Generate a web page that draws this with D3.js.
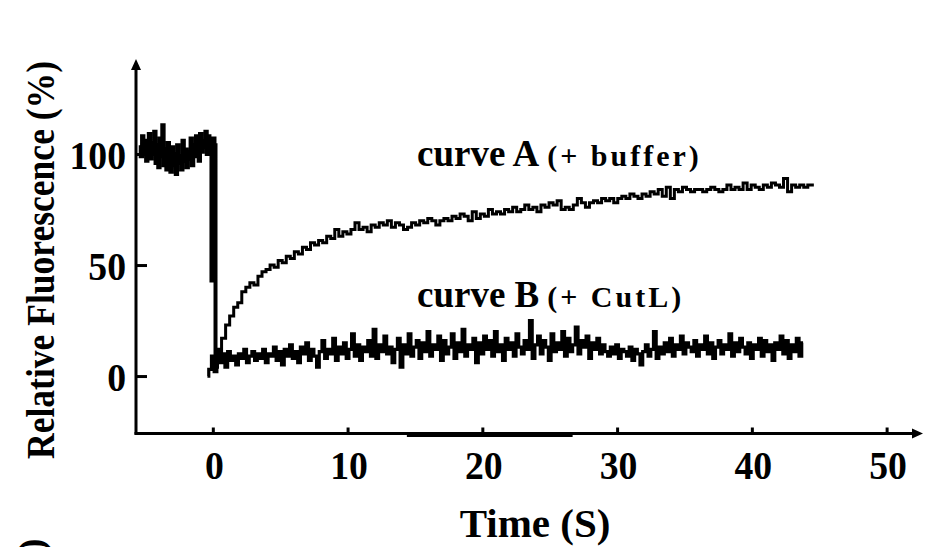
<!DOCTYPE html>
<html>
<head>
<meta charset="utf-8">
<script src="https://cdn.jsdelivr.net/npm/d3@7/dist/d3.min.js"></script>
<style>
html,body{margin:0;padding:0;background:#fff;}
svg{display:block;}
text{font-family:"Liberation Serif","Times New Roman",serif;font-weight:bold;fill:#000;}
</style>
</head>
<body>
<svg id="chart" width="932" height="547"></svg>
<script>
// ---------- data ----------
const xTicks = [0, 10, 20, 30, 40, 50];
const yTicks = [0, 50, 100];
const xTitle = "Time (S)";
const yTitle = "Relative Fluorescence (%)";

// baseline before injection: start time, step (s), values (%)
const preStart = -5.4, preStep = 0.1;
const preValues = [104,99,108,101,106,97,103,109,98,105,
  100,110,96,104,94,107,99,113,95,102,
  93,105,97,92,103,95,100,91,104,96,
  99,93,106,97,102,94,101,98,107,95,
  104,99,108,102,97,109,101,106,103,110,
  100,108,103,107];
// drop at injection: [time, value]
const dropTimes  = [-0.1, -0.1, 0.05, 0.05, 0.2, 0.2];
const dropValues = [106, 43, 45, 107, 104, 2];

// curve A (+ buffer)
const aStart = 0.2, aStep = 0.3;
const curveA = [4,10,17,23,27,31,33,38,40,42,
  41,45,47,48,50,49,52,51,54,53,
  56,55,58,57,60,59,61,60,63,62,
  66,63,65,64,66,69,66,67,65,68,
  67,69,68,70,67,69,68,66,67,69,
  68,70,69,71,70,68,70,71,70,72,
  71,73,72,70,74,71,73,72,75,73,
  74,73,75,74,76,74,75,77,75,76,
  74,77,76,78,77,79,75,76,75,77,
  80,78,76,78,79,78,80,79,80,78,
  80,81,80,82,81,80,82,81,83,82,
  84,81,85,80,84,83,85,84,83,84,
  84,83,84,85,84,83,84,86,84,85,
  84,87,84,86,85,84,86,85,87,86,
  85,89,83,86,85,86,85,86,86];

// curve B (+ CutL)
const bStart = -0.4, bStep = 0.2;
const curveB = [0,3,9,2,12,6,10,4,11,7,
  9,5,10,8,12,6,9,11,7,10,
  8,12,6,10,9,13,7,11,5,12,
  9,14,8,11,6,13,10,15,7,12,
  9,4,11,16,8,12,10,17,7,13,
  10,15,8,12,19,9,14,7,13,11,
  16,9,21,8,14,11,18,10,13,6,
  12,17,4,14,10,19,9,13,16,8,
  15,11,20,9,14,12,18,7,16,10,
  13,19,8,15,11,21,9,14,12,17,
  6,15,10,18,12,16,9,20,11,14,
  7,17,12,15,9,19,13,10,16,12,
  25,8,14,18,10,16,13,7,19,11,
  15,12,20,9,17,11,14,22,10,16,
  13,18,8,15,12,17,10,14,11,9,
  13,10,14,8,12,11,9,13,7,12,
  10,5,11,14,9,12,20,8,13,10,
  15,11,17,9,14,12,18,10,15,13,
  11,16,9,14,12,18,10,15,8,13,
  16,10,14,12,19,9,15,11,17,13,
  10,15,8,14,12,17,9,16,11,14,
  7,15,12,18,10,16,8,14,11,17,
  9,15];

const labelA = "curve A", subA = "(+ buffer)";
const labelB = "curve B", subB = "(+ CutL)";

// ---------- drawing ----------
const svg = d3.select("#chart");
const x = d3.scaleLinear().domain([-5.7, 52.7]).range([136, 923]);
const y = d3.scaleLinear().domain([-25.2, 142.8]).range([432, 59]);

const toPts = (start, step, vals) => vals.map((v, i) => [start + i * step, v]);
const prePts = toPts(preStart, preStep, preValues)
  .concat(dropTimes.map((t, i) => [t, dropValues[i]]));
const aPts = toPts(aStart, aStep, curveA);
const bPts = toPts(bStart, bStep, curveB);

const stepLine = d3.line().x(d => x(d[0])).y(d => y(d[1])).curve(d3.curveStep);

svg.append("path").attr("d", stepLine(prePts)).attr("fill", "none")
  .attr("stroke", "#000").attr("stroke-width", 4).attr("stroke-linejoin", "miter");
svg.append("path").attr("d", stepLine(bPts)).attr("fill", "none")
  .attr("stroke", "#000").attr("stroke-width", 3.2);
svg.append("path").attr("d", stepLine(aPts)).attr("fill", "none")
  .attr("stroke", "#000").attr("stroke-width", 3);

// helper: squeeze text horizontally to a given factor
function squeeze(sel, factor) {
  sel.each(function () {
    const w = this.getComputedTextLength();
    d3.select(this).attr("textLength", w * factor).attr("lengthAdjust", "spacingAndGlyphs");
  });
}

// axes
const xAxisY = y(-25.2) + 1.5;
const yAxisX = x(-5.7);
svg.append("line").attr("x1", yAxisX).attr("x2", yAxisX)
  .attr("y1", xAxisY + 1).attr("y2", y(142.8) + 6)
  .attr("stroke", "#000").attr("stroke-width", 3);
svg.append("path")
  .attr("d", `M${yAxisX},${y(142.8)} L${yAxisX - 5},${y(142.8) + 11} L${yAxisX + 5},${y(142.8) + 11} Z`)
  .attr("fill", "#000");
svg.append("line").attr("x1", yAxisX - 1.5).attr("x2", x(52.7) - 6)
  .attr("y1", xAxisY).attr("y2", xAxisY)
  .attr("stroke", "#000").attr("stroke-width", 3);
// thicker stretch of the scanned axis
svg.append("line").attr("x1", x(14.4)).attr("x2", x(26.7))
  .attr("y1", xAxisY + 2).attr("y2", xAxisY + 2)
  .attr("stroke", "#000").attr("stroke-width", 3);
svg.append("path")
  .attr("d", `M${x(52.7)},${xAxisY} L${x(52.7) - 11},${xAxisY - 5} L${x(52.7) - 11},${xAxisY + 5} Z`)
  .attr("fill", "#000");

const xAxis = d3.axisBottom(x).tickValues(xTicks).tickSizeInner(-6).tickSizeOuter(0).tickPadding(16);
const gx = svg.append("g").attr("transform", `translate(0,${xAxisY})`).call(xAxis);
gx.select(".domain").remove();
gx.selectAll(".tick line").attr("stroke", "#000").attr("stroke-width", 3);
gx.selectAll(".tick text").attr("font-size", 41).attr("font-family", "Liberation Serif")
  .attr("font-weight", "bold").attr("fill", "#000").attr("dy", "0.71em").attr("dx", 1);
squeeze(gx.selectAll(".tick text"), 0.92);

const yAxis = d3.axisLeft(y).tickValues(yTicks).tickSizeInner(-11).tickSizeOuter(0).tickPadding(10);
const gy = svg.append("g").attr("transform", `translate(${yAxisX},0)`).call(yAxis);
gy.select(".domain").remove();
gy.selectAll(".tick line").attr("stroke", "#000").attr("stroke-width", 3);
gy.selectAll(".tick text").attr("font-size", 41).attr("font-family", "Liberation Serif")
  .attr("font-weight", "bold").attr("fill", "#000").attr("dy", "0.36em");
squeeze(gy.selectAll(".tick text"), 0.92);

// axis titles
svg.append("text").attr("x", 535).attr("y", 537).attr("text-anchor", "middle")
  .attr("font-size", 41).text(xTitle);
const yt = svg.append("text").attr("transform", "translate(54,260) rotate(-90)")
  .attr("text-anchor", "middle").attr("font-size", 39).text(yTitle);
yt.attr("textLength", 398).attr("lengthAdjust", "spacingAndGlyphs");
// cut-off glyph of the next panel's label
svg.append("text").attr("transform", "translate(44,551) rotate(-90)")
  .attr("font-size", 37).text(")");

// curve annotations
function annotate(xp, yp, main, sub) {
  const t = svg.append("text").attr("x", xp).attr("y", yp);
  t.append("tspan").attr("font-size", 37).text(main);
  t.append("tspan").attr("font-size", 30).attr("dx", 8).attr("letter-spacing", 3).text(sub);
}
annotate(417, 166, labelA, subA);
annotate(417, 307, labelB, subB);
</script>
</body>
</html>
